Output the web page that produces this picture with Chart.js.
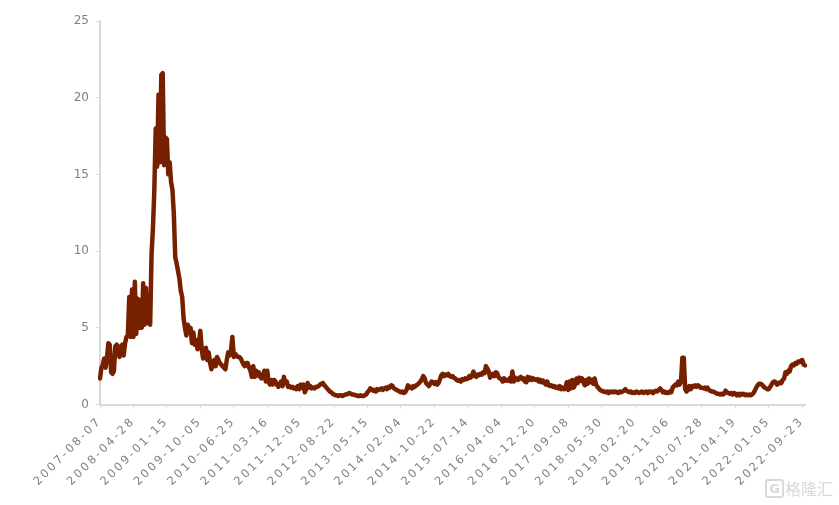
<!DOCTYPE html>
<html>
<head>
<meta charset="utf-8">
<style>
  body { margin: 0; background: #fff; }
  #wrap { position: relative; width: 839px; height: 505px; overflow: hidden; }
  #myChart { filter: blur(0.4px); }
  #mark { position: absolute; left: 765px; top: 479px; height: 19px; color: #d9d9d9; font: 400 16px "Noto Sans CJK SC"; line-height: 19px; white-space: nowrap; }
  #mark b { display: inline-block; width: 15px; height: 15px; border: 2px solid #d9d9d9; border-radius: 3px; font: 700 13px "DejaVu Sans"; line-height: 15px; text-align: center; margin-right: 1px; vertical-align: top; }
</style>
</head>
<body>
<div id="wrap">
  <canvas id="myChart" width="839" height="505"></canvas>
  <div id="mark"><b>G</b>格隆汇</div>
</div>
<script src="https://cdn.jsdelivr.net/npm/chart.js@4"></script>
<script>
const tickLabels = ['2007-08-07', '2008-04-28', '2009-01-15', '2009-10-05', '2010-06-25', '2011-03-16',
    '2011-12-05', '2012-08-22', '2013-05-15', '2014-02-04', '2014-10-22', '2015-07-14', '2016-04-04',
    '2016-12-20', '2017-09-08', '2018-05-30', '2019-02-20', '2019-11-06', '2020-07-28', '2021-04-19',
    '2022-01-05', '2022-09-23'];
const yTicks = [0, 5, 10, 15, 20, 25];
const pointsPerTick = 24;
const values = [
    1.7, 2.4, 2.6, 3.0, 2.4, 3.0, 4.0, 3.9, 2.1, 2.0, 2.2, 3.8, 3.9, 3.6, 3.1, 3.8, 3.9, 3.2, 4.0, 4.4, 4.5, 7.0, 4.4, 7.5,
    4.4, 8.0, 4.6, 6.9, 5.0, 6.8, 5.0, 7.9, 5.2, 7.6, 5.3, 6.5, 5.2, 9.8, 11.5, 14.0, 18.0, 15.5, 20.2, 15.8, 21.5, 21.6, 15.6, 17.4,
    17.3, 15.0, 15.8, 14.5, 14.0, 12.4, 9.6, 9.2, 8.7, 8.2, 7.4, 7.0, 5.6, 5.0, 4.5, 5.2, 4.7, 5.0, 4.0, 4.7, 3.9, 4.2, 3.6, 4.0,
    4.8, 3.6, 3.0, 3.3, 3.7, 2.9, 3.4, 2.7, 2.3, 2.6, 2.9, 2.5, 3.1, 2.9, 2.7, 2.6, 2.5, 2.4, 2.3, 2.9, 3.4, 3.2, 3.5, 4.4,
    3.1, 3.3, 3.2, 3.1, 3.1, 3.0, 2.8, 2.6, 2.5, 2.7, 2.7, 2.4, 2.2, 1.8, 2.5, 1.8, 2.2, 1.9, 2.1, 1.8, 1.7, 1.9, 2.2, 1.5,
    2.2, 1.5, 1.3, 1.6, 1.3, 1.6, 1.5, 1.3, 1.15, 1.3, 1.5, 1.2, 1.8, 1.4, 1.5, 1.15, 1.2, 1.1, 1.15, 1.05, 1.1, 1.0, 1.2, 1.0,
    1.3, 1.1, 1.3, 0.8, 1.0, 1.4, 1.1, 1.2, 1.05, 1.1, 1.05, 1.15, 1.15, 1.2, 1.3, 1.35, 1.4, 1.25, 1.15, 1.05, 0.95, 0.85, 0.8, 0.7,
    0.65, 0.6, 0.6, 0.55, 0.6, 0.6, 0.55, 0.6, 0.65, 0.65, 0.7, 0.75, 0.7, 0.65, 0.65, 0.6, 0.6, 0.55, 0.55, 0.6, 0.55, 0.55, 0.6, 0.65,
    0.8, 0.9, 1.05, 1.0, 0.9, 0.95, 0.85, 1.0, 0.95, 1.0, 1.05, 0.95, 1.05, 1.1, 1.0, 1.15, 1.1, 1.25, 1.2, 1.05, 1.0, 0.95, 0.9, 0.85,
    0.8, 0.85, 0.75, 0.8, 0.95, 1.25, 1.1, 1.15, 1.05, 1.2, 1.15, 1.25, 1.3, 1.4, 1.5, 1.65, 1.85, 1.7, 1.4, 1.3, 1.2, 1.35, 1.5, 1.45,
    1.35, 1.45, 1.3, 1.4, 1.65, 1.9, 2.0, 1.85, 1.95, 1.9, 2.0, 1.85, 1.8, 1.85, 1.75, 1.7, 1.6, 1.55, 1.6, 1.5, 1.65, 1.6, 1.7, 1.65,
    1.7, 1.85, 1.75, 1.9, 2.15, 1.85, 1.8, 1.95, 1.9, 2.0, 1.95, 2.1, 2.05, 2.5, 2.35, 2.15, 1.75, 1.9, 2.0, 1.85, 2.1, 2.05, 1.8, 1.7,
    1.65, 1.5, 1.7, 1.55, 1.6, 1.55, 1.7, 1.5, 2.15, 1.5, 1.75, 1.65, 1.6, 1.75, 1.8, 1.65, 1.7, 1.5, 1.45, 1.8, 1.6, 1.75, 1.6, 1.7,
    1.65, 1.6, 1.65, 1.5, 1.6, 1.45, 1.55, 1.4, 1.3, 1.5, 1.25, 1.2, 1.25, 1.15, 1.2, 1.1, 1.15, 1.05, 1.2, 1.0, 1.1, 1.0, 1.05, 1.45,
    0.95, 1.5, 1.05, 1.6, 1.1, 1.3, 1.7, 1.4, 1.75, 1.55, 1.7, 1.45, 1.25, 1.6, 1.35, 1.7, 1.45, 1.6, 1.35, 1.7, 1.3, 1.15, 1.05, 0.95,
    0.9, 0.85, 0.85, 0.8, 0.85, 0.75, 0.85, 0.8, 0.85, 0.8, 0.85, 0.8, 0.75, 0.85, 0.8, 0.85, 0.9, 1.0, 0.9, 0.85, 0.8, 0.85, 0.75, 0.8,
    0.75, 0.85, 0.8, 0.75, 0.8, 0.85, 0.75, 0.8, 0.85, 0.75, 0.85, 0.8, 0.85, 0.75, 0.85, 0.9, 0.85, 0.95, 1.05, 0.95, 0.8, 0.85, 0.75, 0.8,
    0.75, 0.85, 0.8, 1.1, 1.2, 1.3, 1.25, 1.5, 1.3, 1.5, 3.05, 3.05, 1.0, 0.85, 0.95, 1.2, 1.0, 1.2, 1.15, 1.25, 1.15, 1.25, 1.2, 1.1,
    1.1, 1.05, 1.1, 1.0, 1.1, 0.95, 0.9, 0.85, 0.85, 0.8, 0.75, 0.7, 0.7, 0.65, 0.7, 0.65, 0.7, 0.9, 0.8, 0.75, 0.7, 0.75, 0.65, 0.75,
    0.7, 0.6, 0.7, 0.6, 0.7, 0.65, 0.7, 0.6, 0.65, 0.6, 0.65, 0.6, 0.65, 0.75, 0.9, 1.1, 1.25, 1.35, 1.35, 1.3, 1.2, 1.1, 1.05, 1.0,
    1.0, 1.15, 1.3, 1.45, 1.5, 1.45, 1.3, 1.35, 1.45, 1.4, 1.6, 1.7, 2.1, 2.0, 2.2, 2.15, 2.5, 2.6, 2.55, 2.7, 2.65, 2.8, 2.75, 2.85,
    2.9, 2.6, 2.55
];
const categories = values.map((v, i) => i % pointsPerTick === 0 ? tickLabels[i / pointsPerTick] : '');

const axisColor = '#d9d9d9';
const textColor = '#808080';
const fontFamily = '"DejaVu Sans"';

new Chart(document.getElementById('myChart'), {
    type: 'line',
    data: {
        labels: categories,
        datasets: [{
            data: values,
            borderColor: '#762000',
            borderWidth: 4.5,
            pointRadius: 0,
            tension: 0,
            borderJoinStyle: 'round',
            borderCapStyle: 'round'
        }]
    },
    options: {
        responsive: false,
        animation: false,
        layout: { padding: { top: 21, right: 34 } },
        plugins: { legend: { display: false }, tooltip: { enabled: false } },
        scales: {
            x: {
                type: 'category',
                afterBuildTicks: (scale) => {
                    scale.ticks = scale.ticks.filter(t => t.value % pointsPerTick === 0);
                },
                afterFit: (scale) => {
                    scale.height = 100.5;
                    // x labels are set wider than the y ones in the original
                    if (!scale.spacedLabels) {
                        const drawLabels = scale.drawLabels.bind(scale);
                        scale.drawLabels = (area) => {
                            scale.ctx.letterSpacing = '2.4px';
                            drawLabels(area);
                            scale.ctx.letterSpacing = '0px';
                        };
                        scale.spacedLabels = true;
                    }
                },
                border: { color: axisColor, width: 2 },
                grid: { drawOnChartArea: false, color: axisColor, tickLength: 4, tickWidth: 1 },
                ticks: {
                    autoSkip: false,
                    maxRotation: 45,
                    minRotation: 45,
                    padding: 6,
                    color: textColor,
                    font: { family: fontFamily, size: 11.5 }
                }
            },
            y: {
                min: 0,
                max: 25,
                afterBuildTicks: (scale) => { scale.ticks = yTicks.map(v => ({ value: v })); },
                afterFit: (scale) => { scale.width = 100; },
                border: { color: axisColor, width: 2 },
                grid: { drawOnChartArea: false, color: axisColor, tickLength: 4, tickWidth: 1 },
                ticks: {
                    padding: 7,
                    color: textColor,
                    font: { family: fontFamily, size: 12 }
                }
            }
        }
    }
});
</script>
</body>
</html>
